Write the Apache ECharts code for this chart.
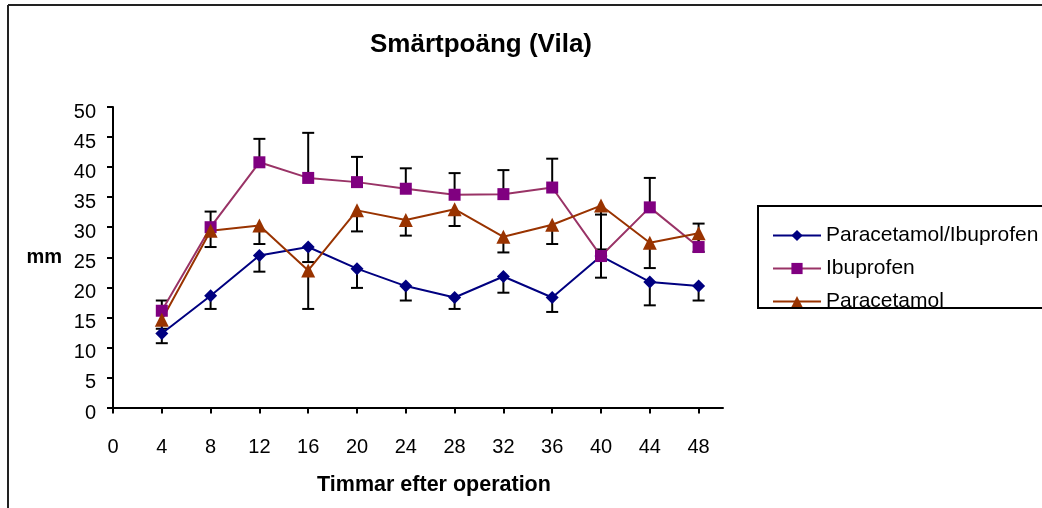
<!DOCTYPE html>
<html>
<head>
<meta charset="utf-8">
<script src="https://cdn.jsdelivr.net/npm/echarts@6/dist/echarts.min.js"></script>
<style>
  html, body { margin: 0; padding: 0; background: #fff; }
  #chart { width: 1042px; height: 508px; }
</style>
</head>
<body>
<div id="chart"></div>
<script>
// timmar efter operation
var hours = [4, 8, 12, 16, 20, 24, 28, 32, 36, 40, 44, 48];
var xTicks = [0, 4, 8, 12, 16, 20, 24, 28, 32, 36, 40, 44, 48];

// medelvärden (mm)
var comboVals = [12.3, 18.6, 25.3, 26.7, 23.1, 20.2, 18.3, 21.8, 18.3, 25.2, 20.9, 20.2];
var ibuVals   = [16.1, 30.0, 40.8, 38.2, 37.5, 36.4, 35.4, 35.5, 36.6, 25.2, 33.3, 26.7];
var paraVals  = [14.6, 29.4, 30.3, 22.8, 32.8, 31.2, 33.0, 28.4, 30.4, 33.6, 27.4, 29.0];

// felstaplar
var comboErr = [1.6, 2.2, 2.7, 2.5, 3.2, 2.4, 1.9, 2.7, 2.4, 3.6, 3.9, 2.4];
var ibuErr   = [1.7, 2.6, 3.9, 7.5, 4.2, 3.4, 3.6, 4.0, 4.8, 6.9, 4.9, 3.9];
var paraErr  = [1.5, 2.7, 3.1, 6.4, 3.5, 2.6, 2.8, 2.6, 3.2, 7.3, 4.2, 3.1];

var names = ['Paracetamol/Ibuprofen', 'Ibuprofen', 'Paracetamol'];

function pairs(vals) {
  return hours.map(function (h, i) { return [h, vals[i]]; });
}

// [x, y, err] ; dir: 1 = uppåt, -1 = nedåt
function errSeries(vals, errs, dir) {
  return {
    type: 'custom',
    silent: true,
    z: 1,
    data: hours.map(function (h, i) { return [h, vals[i], errs[i]]; }),
    renderItem: function (params, api) {
      var p = api.coord([api.value(0), api.value(1)]);
      var e = api.coord([api.value(0), api.value(1) + dir * api.value(2)]);
      var st = { stroke: '#000', lineWidth: 2 };
      return {
        type: 'group',
        children: [
          { type: 'line', shape: { x1: p[0], y1: p[1], x2: e[0], y2: e[1] }, style: st },
          { type: 'line', shape: { x1: e[0] - 6, y1: e[1], x2: e[0] + 6, y2: e[1] }, style: st }
        ]
      };
    }
  };
}

var chart = echarts.init(document.getElementById('chart'));

var option = {
  backgroundColor: '#fff',
  animation: false,
  textStyle: { fontFamily: 'Liberation Sans, Arial, sans-serif' },
  grid: { left: 113, right: 319, top: 107, bottom: 100.5 },
  legend: {
    data: names,
    orient: 'vertical',
    left: 767,
    top: 220,
    itemGap: 12,
    itemWidth: 48,
    itemHeight: 14,
    textStyle: { fontSize: 21, color: '#000' }
  },
  xAxis: {
    type: 'value',
    min: 0,
    max: 50,
    interval: 4,
    splitLine: { show: false },
    axisLine: { lineStyle: { color: '#000', width: 2 } },
    axisTick: { length: 6, lineStyle: { color: '#000', width: 2 }, customValues: xTicks },
    axisLabel: { fontSize: 20, color: '#000', margin: 30, customValues: xTicks },
    name: 'Timmar efter operation',
    nameLocation: 'middle',
    nameGap: 67,
    nameTextStyle: { fontSize: 21.5, fontWeight: 'bold', color: '#000', padding: [0, 0, 0, 32] }
  },
  yAxis: {
    type: 'value',
    min: 0,
    max: 50,
    interval: 5,
    splitLine: { show: false },
    axisLine: { show: true, lineStyle: { color: '#000', width: 2 } },
    axisTick: { show: true, length: 6, lineStyle: { color: '#000', width: 2 } },
    axisLabel: { fontSize: 20, color: '#000', margin: 17, verticalAlign: 'top', lineHeight: 11 },
    name: 'mm',
    nameLocation: 'middle',
    nameRotate: 0,
    nameGap: 51,
    nameTextStyle: { fontSize: 20, fontWeight: 'bold', color: '#000' }
  },
  graphic: [
    { type: 'line', shape: { x1: 8, y1: 5, x2: 1042, y2: 5 }, style: { stroke: '#222', lineWidth: 2 } },
    { type: 'line', shape: { x1: 8, y1: 5, x2: 8, y2: 508 }, style: { stroke: '#222', lineWidth: 2 } },
    {
      type: 'text', x: 481, y: 45,
      style: { text: 'Smärtpoäng (Vila)', fontSize: 26, fontWeight: 'bold', fill: '#000',
               fontFamily: 'Liberation Sans, Arial, sans-serif', align: 'center', verticalAlign: 'middle' }
    },
    { type: 'rect', z: 100, shape: { x: 759, y: 308, width: 283, height: 14 }, style: { fill: '#fff' } },
    { type: 'rect', z: 101, shape: { x: 758, y: 206, width: 300, height: 102 }, style: { fill: 'none', stroke: '#000', lineWidth: 2 } }
  ],
  series: [
    errSeries(comboVals, comboErr, -1),
    errSeries(ibuVals, ibuErr, 1),
    errSeries(paraVals, paraErr, -1),
    {
      name: names[0], type: 'line', z: 3,
      data: pairs(comboVals),
      symbol: 'diamond', symbolSize: 13,
      lineStyle: { color: '#000080', width: 2 },
      itemStyle: { color: '#000080' }
    },
    {
      name: names[1], type: 'line', z: 3,
      data: pairs(ibuVals),
      symbol: 'rect', symbolSize: 12,
      lineStyle: { color: '#993366', width: 2 },
      itemStyle: { color: '#800080' }
    },
    {
      name: names[2], type: 'line', z: 3,
      data: pairs(paraVals),
      symbol: 'triangle', symbolSize: 14,
      lineStyle: { color: '#993300', width: 2 },
      itemStyle: { color: '#993300' }
    }
  ]
};

chart.setOption(option);
</script>
</body>
</html>
